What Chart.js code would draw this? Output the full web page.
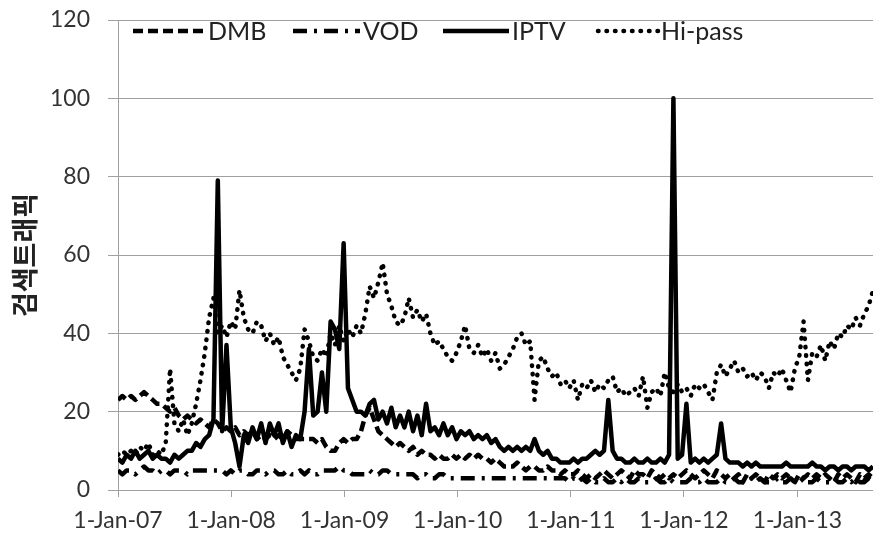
<!DOCTYPE html>
<html>
<head>
<meta charset="utf-8">
<script src="https://cdn.jsdelivr.net/npm/chart.js@4.4.0/dist/chart.umd.min.js"></script>
<style>
body { margin: 0; background: #fff; }
#wrap { width: 873px; height: 537px; }
</style>
</head>
<body>
<div id="wrap"><canvas id="chart" width="873" height="537"></canvas></div>
<script>
// one value every 2 weeks, starting 1-Jan-07
const stepDays = 14;
const tickDays = [0, 365, 731, 1096, 1461, 1826, 2192];
const tickLabels = ['1-Jan-07', '1-Jan-08', '1-Jan-09', '1-Jan-10', '1-Jan-11', '1-Jan-12', '1-Jan-13'];
const yTicks = [0, 20, 40, 60, 80, 100, 120];
const seriesNames = ['DMB', 'VOD', 'IPTV', 'Hi-pass'];

const dmb = [
    23, 24, 23, 24, 23, 24, 25, 24, 23, 22,
    22, 21, 20, 21, 19, 18, 19, 18, 17, 18,
    17, 16, 18, 17, 15, 16, 15, 16, 14, 15,
    14, 15, 13, 14, 13, 14, 13, 14, 13, 15,
    14, 13, 13, 13, 13, 13, 12, 13, 11, 10,
    10, 12, 13, 12, 13, 13, 15, 19, 21, 18,
    15, 14, 13, 12, 11, 12, 11, 10, 11, 9,
    10, 9, 9, 8, 9, 8, 8, 9, 8, 9,
    8, 9, 8, 9, 8, 8, 7, 8, 7, 6,
    6, 6, 7, 6, 5, 6, 6, 5, 5, 6,
    5, 5, 4, 5, 4, 4, 5, 4, 3, 4,
    3, 4, 5, 4, 3, 4, 5, 4, 3, 5,
    4, 4, 3, 5, 4, 3, 4, 3, 4, 3,
    4, 5, 4, 3, 4, 5, 4, 3, 5, 4,
    3, 4, 3, 4, 2, 4, 3, 4, 3, 2,
    4, 3, 4, 3, 4, 3, 2, 4, 3, 4,
    3, 4, 3, 4, 3, 2, 4, 3, 4, 3,
    2, 4, 3, 4, 3
];

const vod = [
    5, 4, 5, 5, 4, 5, 6, 5, 5, 4,
    5, 5, 4, 5, 5, 5, 4, 5, 5, 5,
    5, 5, 5, 5, 5, 4, 5, 4, 5, 5,
    4, 4, 5, 5, 4, 5, 5, 4, 4, 5,
    4, 4, 5, 4, 5, 4, 4, 5, 5, 5,
    5, 6, 5, 5, 4, 4, 4, 4, 5, 4,
    4, 5, 5, 4, 4, 4, 4, 4, 4, 3,
    4, 4, 3, 3, 4, 4, 3, 3, 3, 3,
    3, 3, 3, 3, 3, 3, 3, 3, 3, 3,
    3, 3, 3, 3, 3, 3, 3, 3, 3, 3,
    3, 3, 3, 3, 2, 3, 2, 3, 2, 3,
    2, 2, 3, 2, 2, 3, 2, 3, 2, 2,
    3, 2, 2, 2, 3, 2, 2, 3, 2, 2,
    2, 2, 3, 2, 2, 3, 2, 2, 2, 3,
    2, 2, 3, 2, 2, 2, 3, 2, 3, 2,
    2, 2, 3, 2, 2, 3, 2, 2, 3, 2,
    2, 3, 2, 2, 2, 3, 2, 2, 3, 2,
    3, 2, 2, 3, 2
];

const iptv = [
    8, 7, 9, 8, 10, 8, 9, 10, 8, 9,
    8, 8, 7, 9, 8, 9, 10, 10, 12, 11,
    13, 14, 18, 79, 15, 37, 16, 12, 6, 14,
    12, 16, 13, 17, 12, 17, 14, 17, 12, 15,
    11, 14, 13, 20, 36, 19, 20, 30, 20, 43,
    41, 36, 63, 26, 23, 20, 20, 19, 22, 23,
    18, 20, 17, 21, 16, 19, 16, 20, 15, 19,
    14, 22, 15, 16, 14, 17, 14, 16, 13, 15,
    14, 15, 13, 14, 13, 14, 12, 13, 11, 10,
    11, 10, 11, 10, 11, 10, 13, 10, 9, 10,
    8, 8, 7, 7, 7, 8, 7, 8, 8, 9,
    10, 9, 10, 23, 10, 8, 8, 7, 7, 8,
    7, 7, 8, 7, 7, 8, 7, 9, 100, 8,
    9, 22, 7, 8, 7, 8, 7, 8, 9, 17,
    8, 7, 7, 7, 6, 7, 6, 7, 6, 6,
    6, 6, 6, 6, 7, 6, 6, 6, 6, 6,
    7, 6, 6, 5, 6, 6, 5, 6, 6, 5,
    6, 6, 6, 5, 6
];

const hipass = [
    9, 10, 9, 10, 9, 11, 10, 12, 9, 10,
    9, 12, 31, 17, 15, 18, 14, 17, 22, 28,
    35, 44, 49, 40, 42, 39, 43, 41, 51, 44,
    41, 40, 43, 42, 38, 40, 37, 39, 34, 32,
    30, 28, 31, 41, 38, 34, 33, 36, 34, 40,
    37, 42, 38, 41, 39, 42, 40, 45, 52, 49,
    53, 58, 50, 47, 43, 42, 44, 49, 44, 46,
    43, 45, 40, 37, 38, 36, 34, 33, 35, 38,
    42, 36, 35, 37, 34, 36, 33, 35, 31, 32,
    34, 36, 39, 40, 37, 38, 23, 33, 34, 31,
    29, 30, 27, 28, 26, 28, 23, 27, 26, 28,
    25, 27, 26, 28, 29, 25, 26, 24, 25, 26,
    24, 29, 21, 25, 26, 24, 30, 26, 25, 27,
    25, 26, 24, 27, 26, 27, 25, 23, 30, 32,
    29, 31, 33, 30, 31, 29, 30, 28, 30, 29,
    26, 30, 29, 31, 28, 25, 31, 34, 43, 28,
    35, 34, 37, 33, 38, 36, 40, 39, 42, 41,
    44, 42, 45, 47, 51
];

// legend sample positions (px) inside the plot
const legendStart = [133, 293, 443, 598];
const legendLen = [72, 67, 66, 60];

function toPoints(values) {
    return values.map((v, i) => ({ x: i * stepDays, y: v }));
}

const lineStyles = [
    { borderDash: [10, 5], borderCapStyle: 'butt' },
    { borderDash: [14, 7, 3, 7], borderCapStyle: 'butt' },
    { borderDash: [], borderCapStyle: 'butt' },
    { borderDash: [0.5, 8], borderCapStyle: 'round' }
];
const allSeries = [dmb, vod, iptv, hipass];
const drawOrder = [2, 3, 0, 1];

const topLegend = {
    id: 'topLegend',
    afterDatasetsDraw(chart) {
        const ctx = chart.ctx;
        const y = chart.chartArea.top + 11;
        chart.data.datasets.forEach((ds, k) => {
            ctx.save();
            ctx.strokeStyle = ds.borderColor;
            ctx.lineWidth = ds.borderWidth;
            ctx.lineCap = ds.borderCapStyle;
            ctx.setLineDash(ds.borderDash);
            ctx.beginPath();
            ctx.moveTo(legendStart[k], y);
            ctx.lineTo(legendStart[k] + legendLen[k], y);
            ctx.stroke();
            ctx.setLineDash([]);
            ctx.fillStyle = '#222';
            ctx.font = '25px Lato';
            ctx.textBaseline = 'middle';
            ctx.fillText(ds.label, legendStart[k] + legendLen[k] + 3, y + 1);
            ctx.restore();
        });
    }
};

new Chart(document.getElementById('chart'), {
    type: 'line',
    data: {
        datasets: allSeries.map((vals, k) => ({
            label: seriesNames[k],
            data: toPoints(vals),
            borderColor: '#000',
            borderWidth: 4.5,
            borderDash: lineStyles[k].borderDash,
            borderCapStyle: lineStyles[k].borderCapStyle,
            borderJoinStyle: 'round',
            pointRadius: 0,
            tension: 0,
            fill: false,
            order: drawOrder[k]
        }))
    },
    options: {
        responsive: false,
        devicePixelRatio: 1,
        animation: false,
        layout: { padding: { top: 20, right: 0, bottom: 0, left: 0 } },
        plugins: {
            legend: { display: false },
            tooltip: { enabled: false }
        },
        scales: {
            x: {
                type: 'linear',
                min: 0,
                max: (iptv.length - 1) * stepDays,
                afterBuildTicks: (scale) => { scale.ticks = tickDays.map(v => ({ value: v })); },
                afterFit: (scale) => { scale.height = 47; },
                ticks: {
                    autoSkip: false,
                    maxRotation: 0,
                    padding: 10,
                    color: '#333',
                    font: { family: 'Lato', size: 23 },
                    callback: (v, i) => tickLabels[i]
                },
                grid: { drawOnChartArea: false, drawTicks: true, tickLength: 7, color: '#a0a0a0' },
                border: { color: '#a0a0a0', width: 1 }
            },
            y: {
                min: 0,
                max: 120,
                afterBuildTicks: (scale) => { scale.ticks = yTicks.map(v => ({ value: v })); },
                afterFit: (scale) => {
                    scale.width = 118;
                    scale.paddingTop = 0;
                    scale.paddingBottom = 0;
                },
                ticks: {
                    padding: 18,
                    color: '#333',
                    font: { family: 'Lato', size: 23 }
                },
                grid: { color: '#a0a0a0', tickLength: 10 },
                border: { color: '#a0a0a0', width: 1 },
                title: {
                    display: true,
                    text: '검색트래픽',
                    color: '#222',
                    font: { family: 'Noto Sans CJK KR', size: 27, weight: 'bold' },
                    padding: { top: 9, bottom: 0 }
                }
            }
        }
    },
    plugins: [topLegend]
});
</script>
</body>
</html>
